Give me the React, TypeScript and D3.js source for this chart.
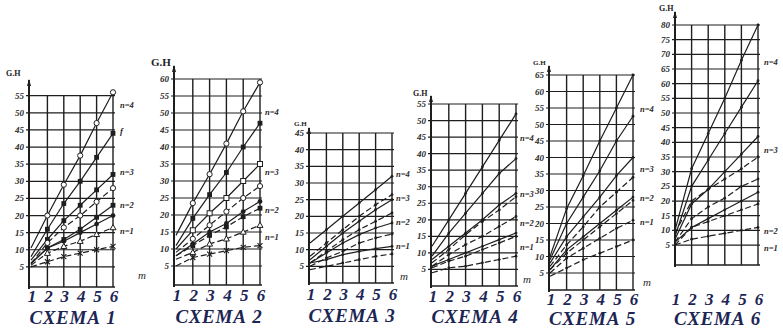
import React from "react";
import * as d3 from "d3";

// m = 1..6 on every scheme
const mValues = [1, 2, 3, 4, 5, 6];
const nLabels = ["n=4", "n=3", "n=2", "n=1"];
const titles = ["СХЕМА 1", "СХЕМА 2", "СХЕМА 3", "СХЕМА 4", "СХЕМА 5", "СХЕМА 6"];
const yTops = [55, 60, 45, 55, 65, 80];

const scheme1 = [
  [10.5, 20, 29, 37.5, 47, 56],
  [8, 16, 23.5, 30, 37, 44],
  [7, 13, 18.5, 23, 27.5, 32],
  [6, 12, 16.5, 20, 24, 28],
  [6, 10.5, 13, 16, 19.5, 23],
  [6, 10.5, 12.5, 15, 17.5, 20],
  [5.5, 9, 11, 12.5, 14.5, 16.5],
  [5, 6.5, 8, 9, 10, 11],
];
const scheme2 = [
  [14, 23.5, 32, 41, 50.5, 59],
  [11, 19, 26, 32.5, 40, 47],
  [10, 15.5, 20.5, 25, 30, 35],
  [9, 13, 17, 21, 25, 28.5],
  [8, 11.5, 15, 17.5, 21, 24],
  [8, 11, 14, 16.5, 19.5, 22],
  [7, 9, 11.5, 13, 15, 17],
  [5, 7.5, 8.5, 9.5, 10.5, 11],
];
const scheme3 = [
  [12, 16, 20, 24, 28, 32],
  [8, 12, 16, 20, 23.5, 26.5],
  [7, 11, 15, 18.5, 22, 25],
  [6, 9.5, 13, 16, 18.5, 21],
  [6, 9, 12, 14.5, 16.5, 18],
  [5, 7.5, 9.5, 12, 13.5, 14.7],
  [6, 7, 8.5, 9.5, 10.3, 11],
  [4, 5, 6, 7, 8, 8.7],
];
const scheme4 = [
  [12, 20, 28, 36, 44, 52],
  [9, 16, 22, 28, 34, 38.5],
  [8, 12, 16, 20, 24.5, 28],
  [7, 11, 15.5, 19.5, 23, 27],
  [6, 9.5, 12.5, 15, 18, 21],
  [6, 8, 10, 12, 14, 16],
  [5.5, 7.5, 9, 11, 13, 15],
  [4, 5.5, 6, 7, 8, 9],
];
const scheme5 = [
  [10, 24.5, 34.5, 45, 55, 65],
  [9, 20, 28, 36, 45, 52.5],
  [8, 16, 22, 28, 34.5, 40],
  [7, 13.5, 19, 25, 29.5, 34],
  [6, 12, 16, 20, 24, 28],
  [6, 11, 15, 19, 23, 27],
  [5, 9.5, 12.5, 15.5, 18.5, 21],
  [4, 6.5, 9, 11, 13, 15],
];
const scheme6 = [
  [10, 31, 43, 55, 68, 80],
  [8, 25, 34, 43, 52, 61],
  [7, 19, 24, 30, 36, 42],
  [9, 20, 24, 27.5, 31, 35],
  [6, 14, 18, 21, 25, 27.5],
  [6, 11, 14, 17, 20, 23],
  [5, 11, 13, 15, 17, 19],
  [5, 7, 8, 9, 10, 11],
];
const schemes = [scheme1, scheme2, scheme3, scheme4, scheme5, scheme6];

// line style per row: dashed or not, and the marker used
const dashed1 = [false, false, false, true, false, false, true, true];
const dashed2 = [false, false, false, true, false, true, true, true];
const dashed3 = [false, true, false, true, false, true, false, true];
const dashed4 = [false, false, false, true, true, false, true, true];
const dashed5 = [false, false, false, true, false, true, true, true];
const dashed6 = [false, false, false, true, true, false, true, true];
const dashes = [dashed1, dashed2, dashed3, dashed4, dashed5, dashed6];
const marks1 = ["o", "s", "s", "o", "s", "d", "t", "x"];
const marks2 = ["o", "s", "q", "o", "d", "s", "t", "x"];
const marksDot = [".", ".", ".", ".", ".", ".", ".", "."];
const marks = [marks1, marks2, marksDot, marksDot, marksDot, marksDot];

// layout of each panel on the page
const layout = [
  { ax: 29, x1: 31, x6: 113, y0: 284, yTop: 95.7, axisY: 287, axisTop: 80, tickY: 302, titleY: 324, gh: [6, 76, 8], m: [138, 282], lblX: 120, lblY: [105, 172, 205, 231] },
  { ax: 174, x1: 176, x6: 260, y0: 283, yTop: 79, axisY: 285, axisTop: 66, tickY: 301, titleY: 323, gh: [151, 66, 11], m: null, lblX: 265, lblY: [112, 172, 210, 237] },
  { ax: 309, x1: 310, x6: 392, y0: 283, yTop: 133, axisY: 283, axisTop: 128, tickY: 300, titleY: 322, gh: [294, 126, 7], m: [400, 283], lblX: 396, lblY: [174, 198, 222, 246] },
  { ax: 431, x1: 432, x6: 516, y0: 286, yTop: 104, axisY: 286, axisTop: 96, tickY: 302, titleY: 323, gh: [413, 96, 8], m: [523, 286], lblX: 520, lblY: [138, 194, 223, 247] },
  { ax: 549, x1: 550, x6: 633, y0: 289.5, yTop: 75, axisY: 290, axisTop: 66, tickY: 305, titleY: 325, gh: [533, 65, 7], m: [643, 289], lblX: 640, lblY: [109, 169, 198, 222] },
  { ax: 675, x1: 675, x6: 758, y0: 259.7, yTop: 25, axisY: 265, axisTop: 12, tickY: 305, titleY: 325, gh: [659, 11, 8], m: null, lblX: 764, lblY: [62, 150, 231, 248] },
];

const ink = "#1e1e1e";
const navy = "#1c2654";

function Marker({ type, x, y }: { type: string; x: number; y: number }) {
  if (type === "o") return <circle cx={x} cy={y} r={2.6} fill="#fff" stroke={ink} strokeWidth={1} />;
  if (type === "d") return <circle cx={x} cy={y} r={2.4} fill={ink} />;
  if (type === "s") return <rect x={x - 2.4} y={y - 2.4} width={4.8} height={4.8} fill={ink} />;
  if (type === "q") return <rect x={x - 2.5} y={y - 2.5} width={5} height={5} fill="#fff" stroke={ink} strokeWidth={1} />;
  if (type === "t")
    return <path d={`M${x},${y - 3}L${x + 3},${y + 2.2}L${x - 3},${y + 2.2}Z`} fill="#fff" stroke={ink} strokeWidth={1} />;
  if (type === "x")
    return <path d={`M${x - 2.5},${y - 2.5}L${x + 2.5},${y + 2.5}M${x + 2.5},${y - 2.5}L${x - 2.5},${y + 2.5}`} stroke={ink} strokeWidth={1.1} />;
  return <circle cx={x} cy={y} r={1.4} fill={ink} />;
}

function Panel({ idx }: { idx: number }) {
  const L = layout[idx];
  const top = yTops[idx];
  const x = d3.scaleLinear().domain([1, 6]).range([L.x1, L.x6]);
  const y = d3.scaleLinear().domain([0, top]).range([L.y0, L.yTop]);
  const ticks = d3.range(5, top + 1, 5);
  const line = d3.line<number>().x((_, i) => x(mValues[i])).y((v) => y(v));
  const right = L.x6 + 2;
  return (
    <g>
      {/* grid */}
      {ticks.map((t) => (
        <line key={"h" + t} x1={L.ax - 3} x2={right} y1={y(t)} y2={y(t)} stroke={ink} strokeWidth={1.2} />
      ))}
      {mValues.slice(1).map((m) => (
        <line key={"v" + m} x1={x(m)} x2={x(m)} y1={L.axisY} y2={y(top)} stroke={ink} strokeWidth={1.4} />
      ))}
      <line x1={L.ax} x2={right} y1={L.axisY} y2={L.axisY} stroke={ink} strokeWidth={1.4} />
      <line x1={L.ax} x2={L.ax} y1={L.axisY + 2} y2={L.axisTop} stroke={ink} strokeWidth={2} />
      <path d={`M${L.ax - 2},${L.axisTop + 6}L${L.ax},${L.axisTop - 1}L${L.ax + 2},${L.axisTop + 6}Z`} fill={ink} />
      {/* y tick labels */}
      {ticks.map((t) => (
        <text key={"t" + t} x={L.ax - 5} y={y(t) + 3} textAnchor="end" fontSize={9} fontStyle="italic" fontWeight="bold"
          fontFamily="Liberation Serif, serif" fill="#2a2a2a">{t}</text>
      ))}
      <text x={L.gh[0]} y={L.gh[1]} fontSize={L.gh[2]} fontWeight="bold" fontFamily="Liberation Serif, serif" fill="#222">G.H</text>
      {/* series */}
      {schemes[idx].map((row, k) => (
        <g key={"s" + k}>
          <path d={line(row) || ""} fill="none" stroke={ink} strokeWidth={1.2}
            strokeDasharray={dashes[idx][k] ? "6,3" : undefined} />
          {row.slice(1).map((v, i) => (
            <Marker key={i} type={marks[idx][k]} x={x(mValues[i + 1])} y={y(v)} />
          ))}
        </g>
      ))}
      {/* n labels */}
      {nLabels.map((s, k) => (
        <text key={s} x={L.lblX} y={L.lblY[k] + 3} fontSize={8.5} fontStyle="italic" fontWeight="bold"
          fontFamily="Liberation Serif, serif" fill="#2a2a2a">{s}</text>
      ))}
      {idx === 0 && (
        <text x={L.lblX} y={134} fontSize={9} fontStyle="italic" fontWeight="bold" fontFamily="Liberation Serif, serif" fill="#2a2a2a">f</text>
      )}
      {L.m && (
        <text x={L.m[0]} y={L.m[1] - 3} fontSize={11} fontStyle="italic" fontFamily="Liberation Serif, serif" fill="#2a2a2a">m</text>
      )}
      {/* m tick labels */}
      {mValues.map((m) => (
        <text key={"m" + m} x={x(m) + 1} y={L.tickY} textAnchor="middle" fontSize={17} fontStyle="italic" fontWeight="bold"
          fontFamily="Liberation Serif, serif" fill={navy}>{m}</text>
      ))}
      <text x={(L.x1 + L.x6) / 2 + 1} y={L.titleY} textAnchor="middle" fontSize={19} fontStyle="italic" fontWeight="bold"
        fontFamily="Liberation Serif, serif" fill={navy} letterSpacing={0.8}>{titles[idx]}</text>
    </g>
  );
}

export default function App() {
  return (
    <div style={{ position: "absolute", left: 0, top: 0 }}>
      <svg width={783} height={329} style={{ display: "block", background: "#fff" }}>
        {layout.map((_, i) => (
          <Panel key={i} idx={i} />
        ))}
      </svg>
    </div>
  );
}
